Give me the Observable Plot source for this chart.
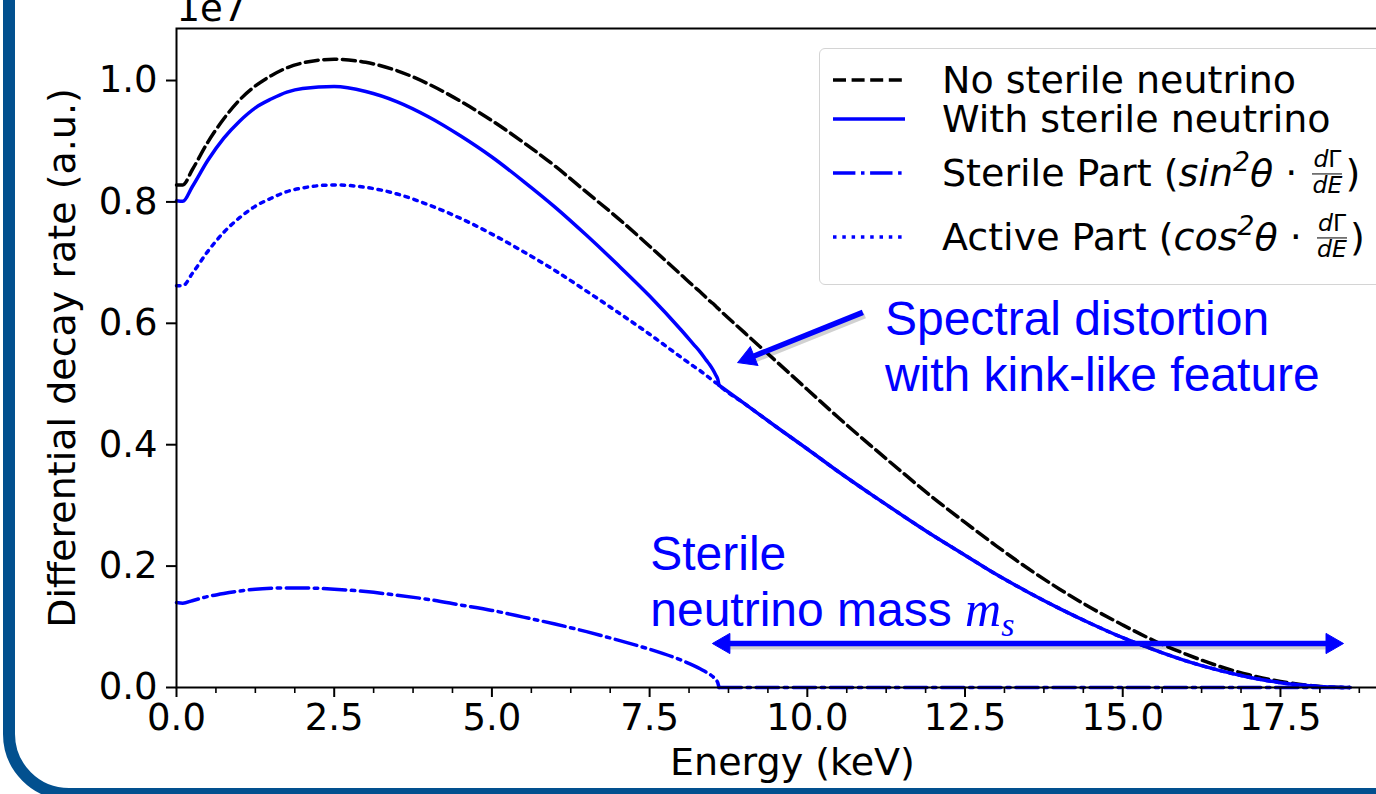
<!DOCTYPE html>
<html><head><meta charset="utf-8">
<script src="https://cdn.jsdelivr.net/npm/d3@7"></script>
<script src="https://cdn.jsdelivr.net/npm/@observablehq/plot@0.6"></script>
<style>
html,body{margin:0;padding:0;overflow:hidden;background:#fff}
#wrap{position:relative;width:1376px;height:794px;overflow:hidden;background:#fff}
#chart{position:absolute;left:0;top:0;width:1408px;height:794px}
#chart svg{max-width:none !important;height:794px !important}
#border{position:absolute;left:3px;top:-200px;width:1600px;height:1000px;box-sizing:border-box;border:12px solid #02508f;border-radius:0 0 0 66px;pointer-events:none}
#legend{position:absolute;left:819px;top:48px;width:620px;height:237px;box-sizing:border-box;border:1.5px solid #d4d4d4;border-radius:6px;background:rgba(255,255,255,0.8)}
.row{position:absolute;left:942px;display:flex;align-items:center;white-space:nowrap;transform:translateY(-50%);font-family:"DejaVu Sans";font-size:38px;color:#000;line-height:0.95}
.sample{position:absolute;left:833px;transform:translateY(-50%);display:block}
.frac{display:inline-flex;flex-direction:column;align-items:center;font-size:0.62em;line-height:1.0;margin:0 3px}
.frac .num{border-bottom:1.5px solid #000;padding:0 1px 1px}
.sup{position:relative;top:-0.55em;font-size:0.7em}
</style>
</head><body>
<div id="wrap">
  <div id="chart"></div>
  <div id="legend"></div>
  <div id="border"></div>
</div>
<script>
// Energy in keV
const energy = [0,0.1,0.25,0.5,0.75,1,1.25,1.5,1.75,2,2.5,3,3.5,4,4.5,5,5.5,6,6.5,7,7.5,8,8.2,8.3,8.4,8.45,8.5,8.55,8.58,8.6,9,9.5,10,10.5,11,11.5,12,12.5,13,13.5,14,14.5,15,15.5,16,16.5,17,17.5,18,18.25,18.6];
// Differential decay rate, in units of 1e7 (a.u.)
const noSterile = [0.828,0.828,0.853,0.899,0.937,0.968,0.991,1.008,1.021,1.029,1.035,1.030,1.016,0.994,0.966,0.934,0.898,0.859,0.816,0.773,0.727,0.680,0.661,0.652,0.642,0.637,0.633,0.628,0.625,0.623,0.585,0.538,0.491,0.444,0.399,0.355,0.312,0.272,0.233,0.196,0.162,0.131,0.103,0.077,0.055,0.036,0.021,0.010,0.003,0.001,0];
const withSterile = [0.802,0.801,0.825,0.869,0.905,0.933,0.955,0.9695,0.981,0.987,0.990,0.982,0.965,0.940,0.909,0.874,0.834,0.7915,0.745,0.696,0.645,0.589,0.565,0.553,0.539,0.532,0.524,0.5145,0.508,0.498,0.468,0.430,0.393,0.355,0.319,0.284,0.250,0.218,0.186,0.157,0.130,0.105,0.082,0.062,0.044,0.029,0.017,0.008,0.0025,0.0008,0];
const sterilePart = [0.140,0.139,0.143,0.150,0.155,0.159,0.162,0.1635,0.164,0.164,0.162,0.158,0.152,0.145,0.136,0.127,0.116,0.1045,0.092,0.078,0.063,0.045,0.036,0.031,0.025,0.022,0.018,0.0125,0.008,0,0,0,0,0,0,0,0,0,0,0,0,0,0,0,0,0,0,0,0,0,0];
const activePart = [0.662,0.662,0.682,0.719,0.750,0.774,0.793,0.806,0.817,0.823,0.828,0.824,0.813,0.795,0.773,0.747,0.718,0.687,0.653,0.618,0.582,0.544,0.529,0.522,0.514,0.510,0.506,0.502,0.500,0.498,0.468,0.430,0.393,0.355,0.319,0.284,0.250,0.218,0.186,0.157,0.130,0.105,0.082,0.062,0.044,0.029,0.017,0.008,0.0025,0.0008,0];
// sterile-neutrino threshold (kink) energy, keV
const kinkEnergy = 8.6;

// Ticks
const xMajorTicks = [0,2.5,5,7.5,10,12.5,15,17.5];
const xMinorTicks = [0.625,1.25,1.875,3.125,3.75,4.375,5.625,6.25,6.875,8.125,8.75,9.375,10.625,11.25,11.875,13.125,13.75,14.375,15.625,16.25,16.875,18.125,18.75,19.375];
const yTicks = [0,0.2,0.4,0.6,0.8,1.0];

// Texts
const xLabel = "Energy (keV)";
const yLabel = "Differential decay rate (a.u.)";
const offsetLabel = "1e7";
const annotationText = ["Spectral distortion","with kink-like feature","Sterile","neutrino mass"];
const annotationX = [11.23, 11.23, 7.51, 7.51];
const annotationY = [0.580, 0.489, 0.193, 0.102];
// Arrows (keV, 1e7 units)
const arrowFromX = [10.88, 8.68];
const arrowFromY = [0.618, 0.0725];
const arrowToX = [9.07, 18.315];
const arrowToY = [0.5425, 0.0725];
const headX = [9.07, 8.68, 18.315];
const headY = [0.5425, 0.0725, 0.0725];
const headAngle = [-111.8, -90, 90];

// Legend
const legendLabels = ["No sterile neutrino","With sterile neutrino","Sterile Part","Active Part"];
const legendFunc = [null, null, "sin", "cos"];

const rows = energy.map((e, i) => ({e, noS: noSterile[i], withS: withSterile[i], ster: sterilePart[i], act: activePart[i]}));
const rowsBelow = rows.filter(d => d.e <= kinkEnergy);
const rowsAbove = rows.filter(d => d.e >= kinkEnergy);
const annots = annotationText.map((t, i) => ({t, x: annotationX[i], y: annotationY[i]}));
const arrows = arrowFromX.map((x1, i) => ({x1, y1: arrowFromY[i], x2: arrowToX[i], y2: arrowToY[i]}));
const heads = headX.map((x, i) => ({x, y: headY[i], a: headAngle[i]}));

const blue = "#0000ff";
const lw = 3.5;
const dashDot = "22.4,5.6,3.5,5.6";

const plot = Plot.plot({
  width: 1408,
  height: 794,
  marginLeft: 176,
  marginRight: 0,
  marginTop: 28,
  marginBottom: 107,
  style: {fontFamily: "DejaVu Sans", fontSize: "37px", background: "white", overflow: "visible", color: "black", maxWidth: "none"},
  x: {domain: [0, 19.53]},
  y: {domain: [0, 1.0857]},
  marks: [
    Plot.line(rows, {x: "e", y: "noS", stroke: "black", strokeWidth: lw, strokeDasharray: "13,5.6", curve: "monotone-x"}),
    Plot.line(rowsBelow, {x: "e", y: "withS", stroke: blue, strokeWidth: lw, curve: "monotone-x"}),
    Plot.line(rowsAbove, {x: "e", y: "withS", stroke: blue, strokeWidth: lw, curve: "monotone-x"}),
    Plot.line(rowsBelow, {x: "e", y: "ster", stroke: blue, strokeWidth: lw, strokeDasharray: dashDot, curve: "monotone-x"}),
    Plot.line(rowsAbove, {x: "e", y: "ster", stroke: blue, strokeWidth: lw, strokeDasharray: dashDot}),
    Plot.line(rows, {x: "e", y: "act", stroke: blue, strokeWidth: lw, strokeDasharray: "3.5,5.8", curve: "monotone-x"}),
    Plot.frame({stroke: "black", strokeWidth: 2}),
    Plot.axisX(xMajorTicks, {tickSize: 10, tickPadding: 6, strokeWidth: 2, tickFormat: d3.format(".1f"), label: null}),
    Plot.axisX(xMinorTicks, {tickSize: 6, strokeWidth: 1.6, tickFormat: () => "", label: null}),
    Plot.axisY(yTicks, {tickSize: 10, tickPadding: 9, strokeWidth: 2, tickFormat: d3.format(".1f"), label: null}),
    Plot.text([xLabel], {frameAnchor: "bottom", dy: 87, lineAnchor: "bottom", textAnchor: "middle", fontSize: 38}),
    Plot.text([yLabel], {frameAnchor: "left", dx: -102, rotate: -90, lineAnchor: "bottom", textAnchor: "middle", fontSize: 38}),
    Plot.text([offsetLabel], {frameAnchor: "top-left", dy: -8, lineAnchor: "bottom", textAnchor: "start", fontSize: 37}),
    // arrow shadows
    Plot.link(arrows, {x1: "x1", y1: "y1", x2: "x2", y2: "y2", stroke: "#000", strokeOpacity: 0.18, strokeWidth: 6, dx: 2, dy: 3}),
    Plot.link(arrows, {x1: "x1", y1: "y1", x2: "x2", y2: "y2", stroke: blue, strokeWidth: 5.5}),
    Plot.dot(heads, {x: "x", y: "y", rotate: "a", symbol: "triangle", r: 7.5, fill: blue, stroke: blue, strokeWidth: 1}),
    Plot.text(annots, {x: "x", y: "y", text: "t", textAnchor: "start", lineAnchor: "bottom", fill: blue, fontFamily: "Liberation Sans", fontSize: 48})
  ]
});

// add italic m_s to the annotation line
d3.select(plot).selectAll("text").filter(function(){ return this.textContent === "neutrino mass"; }).each(function(){
  const t = d3.select(this);
  t.append("tspan").text(" ");
  t.append("tspan").attr("font-family", "Liberation Serif").attr("font-style", "italic").attr("font-size", 50).text("m");
  t.append("tspan").attr("font-family", "Liberation Serif").attr("font-style", "italic").attr("font-size", 34).attr("dy", 10).text("s");
});

document.getElementById("chart").appendChild(plot);

// legend
const wrap = document.getElementById("wrap");
const rowCenters = [80, 119, 173, 237];
const samples = [
  {stroke: "black", dash: "13,5.6"},
  {stroke: blue, dash: null},
  {stroke: blue, dash: dashDot},
  {stroke: blue, dash: "3.5,5.8"}
];
legendLabels.forEach((lab, i) => {
  const svg = d3.create("svg").attr("class", "sample").attr("width", 72).attr("height", 8)
    .style("top", rowCenters[i] + "px");
  svg.append("line").attr("x1", 0).attr("x2", 72).attr("y1", 4).attr("y2", 4)
    .attr("stroke", samples[i].stroke).attr("stroke-width", lw)
    .attr("stroke-dasharray", samples[i].dash);
  wrap.appendChild(svg.node());
  const div = document.createElement("div");
  div.className = "row";
  div.style.top = rowCenters[i] + "px";
  if (legendFunc[i]) {
    div.innerHTML = `<span>${lab}&nbsp;(</span><span style="font-style:italic">${legendFunc[i]}<span class="sup">2</span>θ</span><span>&nbsp;·&nbsp;</span><span class="frac"><span class="num"><i>d</i>Γ</span><span class="den"><i>dE</i></span></span><span>)</span>`;
  } else {
    div.textContent = lab;
  }
  wrap.appendChild(div);
});
</script>
</body></html>
